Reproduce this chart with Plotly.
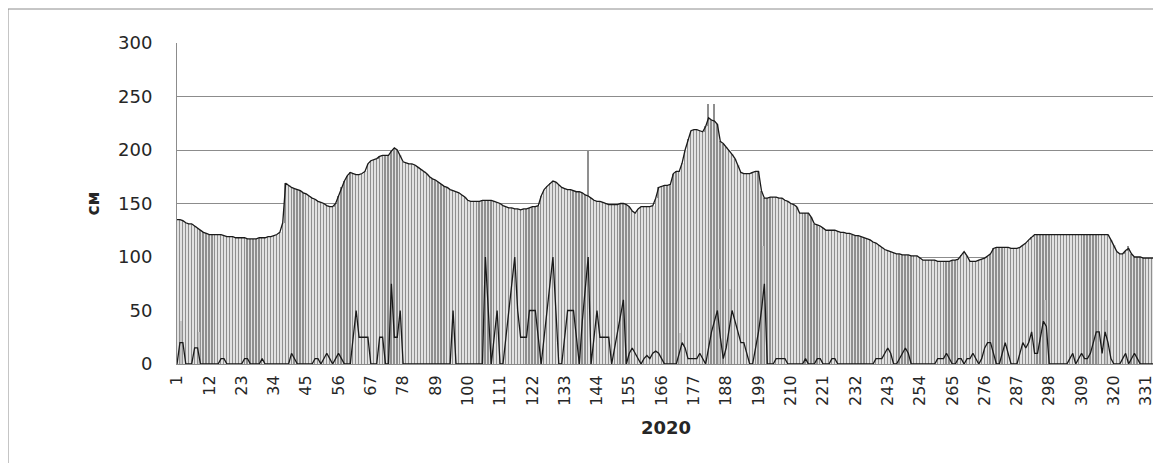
import plotly.graph_objects as go

# Day numbers 1..334 of 2020
days = list(range(1, 335))

# Upper series (bars + outline line), cm
upper = [
    135,135,134,132,131,131,129,127,125,123,
    122,121,121,121,121,121,120,119,119,119,
    118,118,118,118,117,117,117,117,118,118,
    118,119,119,120,121,123,132,169,167,165,
    164,163,162,160,159,157,155,154,152,151,
    150,148,147,147,150,157,165,171,176,179,
    178,177,177,178,180,187,190,191,192,194,
    195,195,195,199,202,200,195,189,188,187,
    187,186,184,182,180,178,175,173,172,170,
    168,166,165,163,162,161,160,158,156,153,
    152,152,152,152,153,153,153,153,152,151,
    150,148,147,146,146,145,145,144,145,145,
    146,147,147,148,157,163,166,169,171,170,
    167,165,164,163,163,162,161,161,160,158,
    157,155,153,152,152,151,150,149,149,149,
    149,150,150,149,147,143,141,145,147,147,
    147,147,148,155,165,166,167,167,168,178,
    180,180,188,200,210,218,219,219,218,217,
    222,230,228,227,224,208,206,203,200,196,
    192,186,179,178,178,178,179,180,180,162,
    155,155,156,156,156,155,155,153,152,150,
    149,147,141,141,141,141,137,131,130,129,
    127,125,125,125,125,124,123,123,122,122,
    121,120,120,119,118,117,116,114,113,111,
    109,107,106,105,104,103,103,102,102,102,
    101,101,101,99,97,97,97,97,97,96,
    96,96,96,96,97,97,98,102,105,101,
    96,96,96,97,98,99,101,103,108,109,
    109,109,109,109,108,108,108,109,111,113,
    116,119,121,121,121,121,121,121,121,121,
    121,121,121,121,121,121,121,121,121,121,
    121,121,121,121,121,121,121,121,116,111,
    105,103,103,106,108,103,100,100,100,99,
    99,99,99,99,
]

# Lower series (line), cm
lower = [
    0,20,20,0,0,0,15,15,0,0,
    0,0,0,0,0,5,5,0,0,0,
    0,0,0,5,5,0,0,0,0,5,
    0,0,0,0,0,0,0,0,0,10,
    5,0,0,0,0,0,0,5,5,0,
    5,10,5,0,5,10,5,0,0,0,
    25,50,25,25,25,25,0,0,0,25,
    25,0,0,75,25,25,50,0,0,0,
    0,0,0,0,0,0,0,0,0,0,
    0,0,0,0,50,0,0,0,0,0,
    0,0,0,0,0,100,50,0,25,50,
    0,0,25,50,75,100,50,25,25,25,
    50,50,50,25,0,25,50,75,100,50,
    0,0,25,50,50,50,25,0,40,70,
    100,0,25,50,25,25,25,25,0,15,
    30,45,60,0,10,15,10,5,0,5,
    8,5,10,12,10,5,0,0,0,0,
    0,10,20,15,5,5,5,5,10,5,
    0,15,30,40,50,25,5,15,35,50,
    40,30,20,20,10,0,0,15,30,50,
    75,0,0,0,5,5,5,5,0,0,
    0,0,0,0,5,0,0,0,5,5,
    0,0,0,5,5,0,0,0,0,0,
    0,0,0,0,0,0,0,0,5,5,
    5,10,15,10,0,0,5,10,15,10,
    0,0,0,0,0,0,0,0,0,5,
    5,5,10,5,0,0,5,5,0,5,
    5,10,5,0,5,15,20,20,10,0,
    0,10,20,10,0,0,0,10,20,15,
    20,30,10,10,25,40,35,0,0,0,
    0,0,0,0,5,10,0,5,10,5,
    5,10,20,30,30,10,30,20,5,0,
    0,0,5,10,0,5,10,5,0,0,
    0,0,0,0,
]

# Bars that rise above the upper line (day: cm)
tall_bar_days = [141, 182, 184, 325]
tall_bar_vals = [200, 243, 243, 110]

# Light thin bars (day: cm)
light_bar_days = [2, 8, 172, 185, 189, 200, 296, 314, 317]
light_bar_vals = [40, 30, 29, 70, 70, 110, 60, 41, 41]

tick_days = list(range(1, 335, 11))
tick_text = [str(d) for d in tick_days]

bar_vals = list(upper)
for d, v in zip(tall_bar_days, tall_bar_vals):
    bar_vals[d - 1] = v

# figure is placed 8px in from the page corner by the page's default body margin
W, H = 1153, 455
L, R, T, B = 169, 6, 35, 99
PW, PH = W - L - R, H - T - B

fig = go.Figure()
fig.add_trace(go.Bar(x=days, y=bar_vals, width=0.48,
                     marker=dict(color="#8f8f8f", line=dict(width=0)),
                     showlegend=False, hoverinfo="x+y"))
fig.add_trace(go.Bar(x=days, y=upper, width=0.22, offset=0.26,
                     marker=dict(color="#e2e2e2", line=dict(width=0)),
                     showlegend=False, hoverinfo="skip"))
fig.add_trace(go.Bar(x=light_bar_days, y=light_bar_vals, width=0.3, offset=0.25,
                     marker=dict(color="#c4c4c4", line=dict(width=0)),
                     showlegend=False))
fig.add_trace(go.Scatter(x=days, y=upper, mode="lines",
                         line=dict(color="#1a1a1a", width=1.3),
                         showlegend=False))
fig.add_trace(go.Scatter(x=days, y=lower, mode="lines",
                         line=dict(color="#1a1a1a", width=1.3),
                         showlegend=False))

font_fam = "DejaVu Sans"
x_left = (0 - L) / PW
y_top = (T + PH - 1) / PH
fig.update_layout(
    width=W, height=H,
    margin=dict(l=L, r=R, t=T, b=B, autoexpand=False),
    paper_bgcolor="white", plot_bgcolor="white",
    barmode="overlay", bargap=0,
    font=dict(family=font_fam, size=16, color="#262626"),
    xaxis=dict(range=[1, 334], tickmode="array", tickvals=tick_days, ticktext=tick_text,
               tickangle=-90, showgrid=False, showline=True, linecolor="#8c8c8c",
               linewidth=1, ticks="", zeroline=False, ticklabelstandoff=4,
               tickfont=dict(family=font_fam, size=16),
               title=dict(text="<b>2020</b>", font=dict(family=font_fam, size=18), standoff=16)),
    yaxis=dict(range=[0, 300], tickmode="array", tickvals=[0, 50, 100, 150, 200, 250, 300],
               showgrid=True, gridcolor="#8c8c8c", gridwidth=1, showline=True,
               linecolor="#8c8c8c", linewidth=1, ticks="", zeroline=False,
               ticklabelstandoff=20,
               tickfont=dict(family=font_fam, size=18),
               title=dict(text="<b>см</b>", font=dict(family=font_fam, size=17), standoff=14)),
    shapes=[
        dict(type="line", xref="paper", yref="paper", x0=x_left, x1=x_left,
             y0=-0.5, y1=y_top, line=dict(color="#8c8c8c", width=1), layer="below"),
        dict(type="line", xref="paper", yref="paper", x0=x_left, x1=1.1,
             y0=y_top, y1=y_top, line=dict(color="#8c8c8c", width=1), layer="below"),
    ],
)

fig.write_html("out.html")
